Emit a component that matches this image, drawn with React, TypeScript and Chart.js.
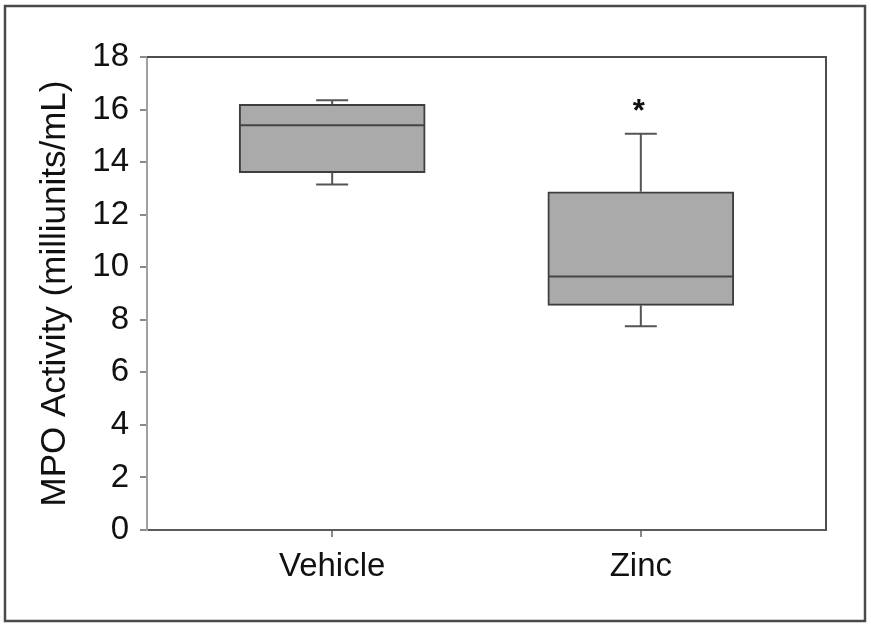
import React, { useEffect, useRef } from 'react';
import { Chart, registerables } from 'chart.js';

Chart.register(...registerables);

const categories = ['Vehicle', 'Zinc'];
const whiskerLow = [13.15, 7.75];
const q1 = [13.6, 8.55];
const median = [15.4, 9.65];
const q3 = [16.2, 12.87];
const whiskerHigh = [16.35, 15.08];
const significance = ['', '*'];
const yTicks = [0, 2, 4, 6, 8, 10, 12, 14, 16, 18];
const yTitle = 'MPO Activity (milliunits/mL)';

const FONT = "'Liberation Sans', Arial, Helvetica, sans-serif";

const boxPlotPlugin = {
  id: 'boxPlotExtras',
  beforeDraw(chart: any) {
    const { ctx } = chart;
    ctx.save();
    ctx.fillStyle = '#ffffff';
    ctx.fillRect(0, 0, chart.width, chart.height);
    ctx.strokeStyle = '#4a4a4a';
    ctx.lineWidth = 2.5;
    ctx.strokeRect(5, 6, chart.width - 11, chart.height - 12);
    ctx.restore();
  },
  afterDatasetsDraw(chart: any) {
    const { ctx, chartArea, scales } = chart;
    const x = scales.x;
    const y = scales.y;
    const meta = chart.getDatasetMeta(0);
    ctx.save();
    ctx.strokeStyle = '#4d4d4d';
    ctx.lineWidth = 2;
    ctx.beginPath();
    ctx.moveTo(chartArea.left, chartArea.top);
    ctx.lineTo(chartArea.right, chartArea.top);
    ctx.lineTo(chartArea.right, chartArea.bottom);
    ctx.stroke();

    categories.forEach((_, i) => {
      const bar = meta.data[i];
      const cx = x.getPixelForValue(i + 1);
      const half = bar.width / 2;
      const capHalf = 16;
      const yHi = y.getPixelForValue(whiskerHigh[i]);
      const yLo = y.getPixelForValue(whiskerLow[i]);
      const yQ1 = y.getPixelForValue(q1[i]);
      const yQ3 = y.getPixelForValue(q3[i]);
      const yMed = y.getPixelForValue(median[i]);
      ctx.strokeStyle = '#555555';
      ctx.lineWidth = 2;
      ctx.beginPath();
      ctx.moveTo(cx, yQ3);
      ctx.lineTo(cx, yHi);
      ctx.moveTo(cx - capHalf, yHi);
      ctx.lineTo(cx + capHalf, yHi);
      ctx.moveTo(cx, yQ1);
      ctx.lineTo(cx, yLo);
      ctx.moveTo(cx - capHalf, yLo);
      ctx.lineTo(cx + capHalf, yLo);
      ctx.stroke();
      ctx.strokeStyle = '#444444';
      ctx.beginPath();
      ctx.moveTo(cx - half + 1, yMed);
      ctx.lineTo(cx + half - 1, yMed);
      ctx.stroke();
      if (significance[i]) {
        ctx.fillStyle = '#111111';
        ctx.font = `bold 31px ${FONT}`;
        ctx.textAlign = 'center';
        ctx.textBaseline = 'alphabetic';
        ctx.fillText(significance[i], cx - 2, yHi - 13);
      }
    });
    ctx.restore();
  },
};

export default function App() {
  const canvasRef = useRef<HTMLCanvasElement | null>(null);

  useEffect(() => {
    const canvas = canvasRef.current;
    if (!canvas) return;
    const chart = new Chart(canvas, {
      type: 'bar',
      data: {
        datasets: [
          {
            data: categories.map((_, i) => ({ x: i + 1, y: [q1[i], q3[i]] })) as any,
            backgroundColor: '#aaaaaa',
            borderColor: '#3e3e3e',
            borderWidth: 2,
            borderSkipped: false,
            barThickness: 186,
          },
        ],
      },
      options: {
        animation: false,
        responsive: false,
        maintainAspectRatio: false,
        events: [],
        layout: { padding: { left: 0, top: 57, right: 45, bottom: 0 } },
        plugins: {
          legend: { display: false },
          tooltip: { enabled: false },
        },
        scales: {
          x: {
            type: 'linear',
            min: 0.4,
            max: 2.6,
            offset: false,
            afterBuildTicks: (scale: any) => {
              scale.ticks = categories.map((_, i) => ({ value: i + 1 }));
            },
            afterFit: (scale: any) => {
              scale.height = 97;
            },
            ticks: {
              autoSkip: false,
              maxRotation: 0,
              padding: 10,
              color: '#111111',
              font: { family: FONT, size: 33 },
              callback: (v: any) => categories[Math.round(v) - 1] ?? '',
            },
            grid: {
              offset: false,
              drawOnChartArea: false,
              drawTicks: true,
              tickLength: 7,
              color: '#8a8a8a',
              lineWidth: 2,
            },
            border: { color: '#5a5a5a', width: 2 },
          },
          y: {
            type: 'linear',
            min: 0,
            max: 18,
            afterBuildTicks: (scale: any) => {
              scale.ticks = yTicks.map((v) => ({ value: v }));
            },
            afterFit: (scale: any) => {
              scale.width = 147;
            },
            ticks: {
              padding: 11,
              color: '#111111',
              font: { family: FONT, size: 33 },
            },
            grid: {
              drawOnChartArea: false,
              drawTicks: true,
              tickLength: 7,
              color: '#8a8a8a',
              lineWidth: 2,
            },
            border: { color: '#a0a0a0', width: 2 },
            title: {
              display: true,
              text: yTitle,
              color: '#111111',
              font: { family: FONT, size: 35 },
              padding: { top: 34, bottom: 0 },
            },
          },
        },
      },
      plugins: [boxPlotPlugin],
    });
    return () => chart.destroy();
  }, []);

  return (
    <div style={{ position: 'absolute', left: 0, top: 0, width: 871, height: 627 }}>
      <canvas ref={canvasRef} width={871} height={627} style={{ width: 871, height: 627, display: 'block' }} />
    </div>
  );
}
